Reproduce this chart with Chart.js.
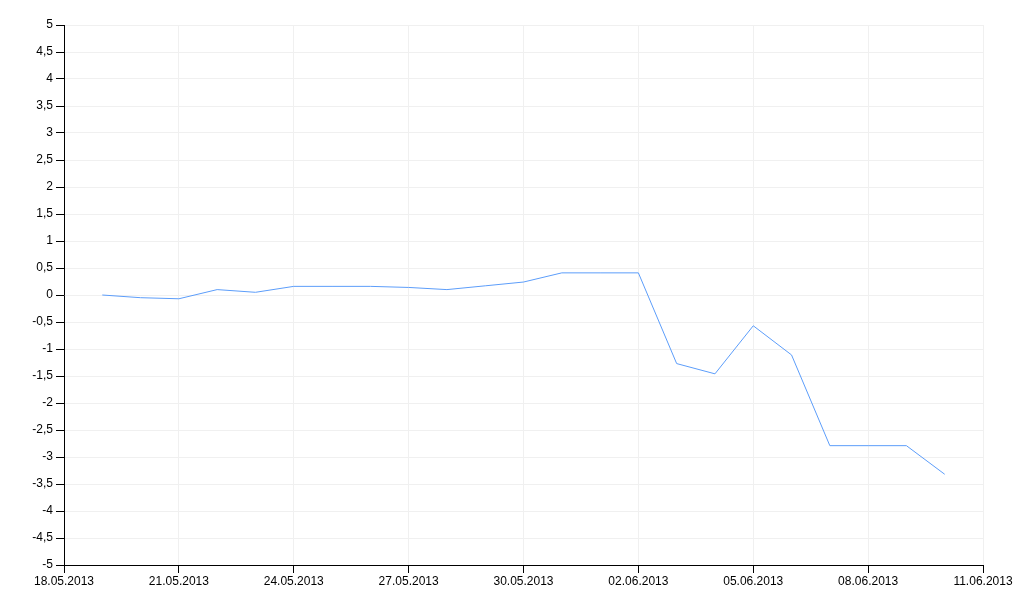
<!DOCTYPE html>
<html>
<head>
<meta charset="utf-8">
<script src="https://cdn.jsdelivr.net/npm/chart.js@4.4.0/dist/chart.umd.min.js"></script>
<style>
  html, body { margin: 0; padding: 0; background: #fff; }
  #wrap { width: 1036px; height: 596px; }
</style>
</head>
<body>
<div id="wrap"><canvas id="myChart" width="1036" height="596"></canvas></div>
<script>
const dates = [
    '19.05.2013', '20.05.2013', '21.05.2013', '22.05.2013', '23.05.2013',
    '24.05.2013', '25.05.2013', '26.05.2013', '27.05.2013', '28.05.2013',
    '29.05.2013', '30.05.2013', '31.05.2013', '01.06.2013', '02.06.2013',
    '03.06.2013', '04.06.2013', '05.06.2013', '06.06.2013', '07.06.2013',
    '08.06.2013', '09.06.2013', '10.06.2013'
];
const values = [
    0, -0.05, -0.07, 0.1, 0.05,
    0.16, 0.16, 0.16, 0.14, 0.1,
    0.17, 0.24, 0.41, 0.41, 0.41,
    -1.27, -1.46, -0.57, -1.11, -2.79,
    -2.79, -2.79, -3.32
];
const xStart = '18.05.2013';
const xEnd = '11.06.2013';

const DAY = 86400000;
function parseDate(s) {
    const p = s.split('.');
    return Date.UTC(+p[2], +p[1] - 1, +p[0]);
}
function fmtDate(t) {
    const d = new Date(t);
    const dd = String(d.getUTCDate()).padStart(2, '0');
    const mm = String(d.getUTCMonth() + 1).padStart(2, '0');
    return dd + '.' + mm + '.' + d.getUTCFullYear();
}
const t0 = parseDate(xStart);
const points = dates.map((d, i) => ({ x: (parseDate(d) - t0) / DAY, y: values[i] }));

const ctx = document.getElementById('myChart');
const font = { family: 'Liberation Sans, Arial, sans-serif', size: 12 };

new Chart(ctx, {
    type: 'line',
    data: {
        datasets: [{
            data: points,
            borderColor: '#5c9dfa',
            borderWidth: 1,
            pointRadius: 0,
            tension: 0,
            fill: false
        }]
    },
    options: {
        responsive: false,
        animation: false,
        layout: { padding: { top: 25, right: 53, left: 0, bottom: 0 } },
        plugins: { legend: { display: false }, tooltip: { enabled: false } },
        scales: {
            x: {
                type: 'linear',
                min: 0,
                max: (parseDate(xEnd) - t0) / DAY,
                ticks: {
                    stepSize: 3,
                    color: '#000',
                    font: font,
                    maxRotation: 0,
                    padding: 1,
                    callback: v => fmtDate(t0 + v * DAY)
                },
                grid: { color: '#f0f0f0', tickColor: '#000', tickLength: 8 },
                border: { color: '#000', width: 1 },
                afterFit: s => { s.height = 31; }
            },
            y: {
                min: -5,
                max: 5,
                ticks: {
                    stepSize: 0.5,
                    color: '#000',
                    font: font,
                    padding: 3,
                    callback: v => String(v).replace('.', ',')
                },
                grid: { color: '#f0f0f0', tickColor: '#000', tickLength: 8 },
                border: { color: '#000', width: 1 },
                afterFit: s => { s.width = 64; }
            }
        }
    }
});
</script>
</body>
</html>
